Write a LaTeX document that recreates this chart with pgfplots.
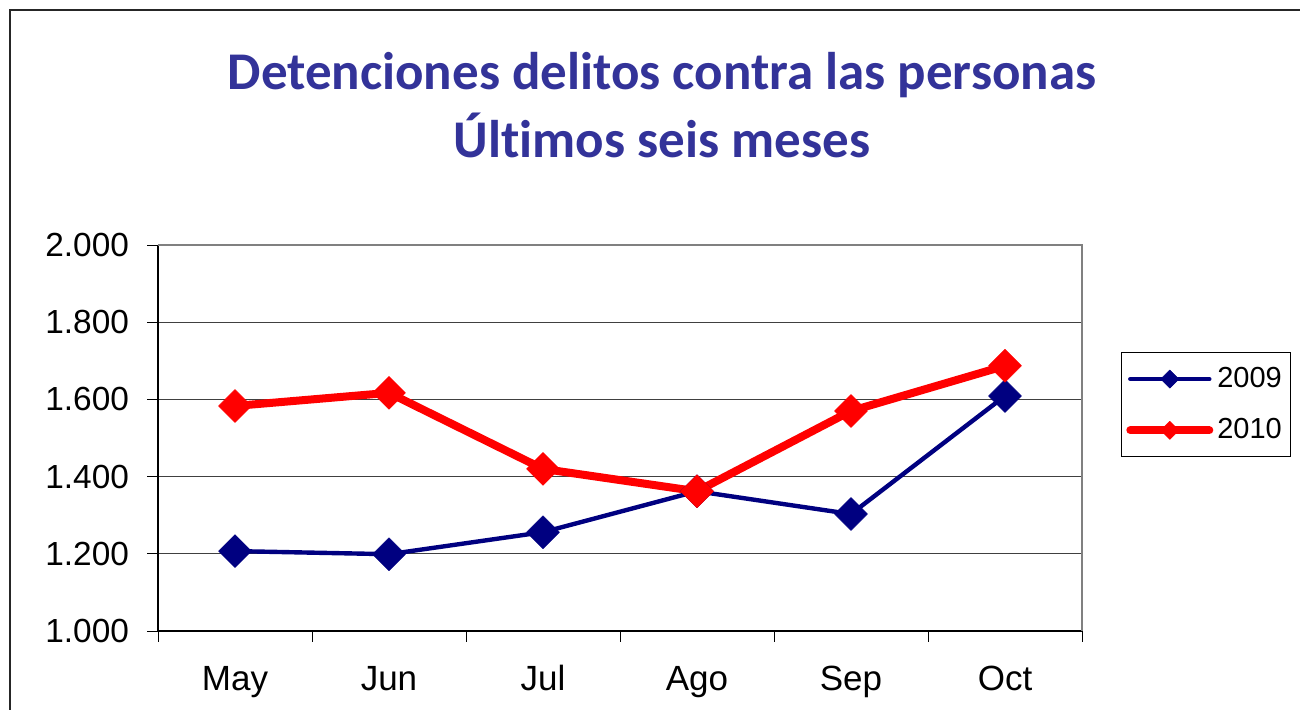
\documentclass[border=0pt]{standalone}
\usepackage{fontspec}
\setmainfont{Liberation Sans}
\newfontfamily\titlefont{Carlito}[Ligatures=NoCommon]
\usepackage{pgfplots}
\pgfplotsset{compat=1.18}
\definecolor{titleblue}{HTML}{333399}
\definecolor{navy09}{HTML}{000080}
\definecolor{red10}{HTML}{FF0000}

\begin{document}
\begin{tikzpicture}
\path[use as bounding box] (0pt,0pt) rectangle (650pt,354.5pt);
% outer chart frame (cropped)
\draw[line width=0.8pt, black!85] (5pt,-1pt) -- (5pt,349.5pt) -- (651pt,349.5pt);
\node[anchor=base, text=titleblue, font=\titlefont\bfseries\fontsize{26.5}{30}\selectfont]
  at (331pt,310pt) {Detenciones delitos contra las personas};
\node[anchor=base, text=titleblue, font=\titlefont\bfseries\fontsize{26.5}{30}\selectfont]
  at (331pt,276pt) {Últimos seis meses};

\begin{axis}[
    at={(79pt,39pt)}, anchor=south west,
    scale only axis,
    width=462pt, height=193pt,
    xmin=-0.5, xmax=5.5,
    ymin=1000, ymax=2000,
    axis x line*=bottom, axis y line*=left,
    axis line style={black, line width=0.8pt},
    xtick={0,1,2,3,4,5},
    xticklabels={May,Jun,Jul,Ago,Sep,Oct},
    xtick style={draw=none},
    ytick={1000,1200,1400,1600,1800,2000},
    yticklabels={1.000,1.200,1.400,1.600,1.800,2.000},
    tick align=outside,
    major tick length=5.5pt,
    ytick style={black, line width=0.5pt},
    ymajorgrids,
    grid style={black!75, line width=0.5pt},
    yticklabel style={font=\fontsize{16.7}{19}\selectfont, black, xshift=-5.5pt},
    xticklabel style={font=\fontsize{17.5}{20}\selectfont, black,
        yshift=-8pt, text height=12.5pt, text depth=3.5pt},
    legend style={at={(1.042,0.723)}, anchor=north west,
        draw=black, line width=0.5pt,
        font=\fontsize{14.5}{17}\selectfont,
        inner xsep=2.5pt, inner ysep=5.5pt,
        row sep=10pt},
    legend cell align=left,
    legend image code/.code={%
        \draw[mark repeat=2, mark phase=2, mark size=3.2pt]
        plot coordinates {(0pt,0pt) (19.75pt,0pt) (39.5pt,0pt)};},
    clip=false,
]
% gray plot-area border on top and right
\draw[gray, line width=0.8pt] (rel axis cs:0,1) -- (rel axis cs:1,1) -- (rel axis cs:1,0);
% category separator ticks
\pgfplotsinvokeforeach{-0.5,0.5,1.5,2.5,3.5,4.5,5.5}{
  \draw[black, line width=0.5pt] (axis cs:#1,1000) -- ++(0pt,-5.5pt);
}
\addplot[navy09, line width=2.2pt, line join=round, line cap=round,
    mark=square*, mark size=5.8pt,
    mark options={rotate=45, fill=navy09, draw=navy09, line width=0.3pt}]
  coordinates {(0,1207) (1,1199) (2,1256) (3,1362) (4,1303) (5,1609)};
\addlegendentry{2009}
\addplot[red10, line width=4pt, line join=round, line cap=round,
    mark=square*, mark size=5.8pt,
    mark options={rotate=45, fill=red10, draw=red10, line width=0.3pt}]
  coordinates {(0,1583) (1,1617) (2,1420) (3,1362) (4,1570) (5,1687)};
\addlegendentry{2010}
\end{axis}
\end{tikzpicture}
\end{document}
